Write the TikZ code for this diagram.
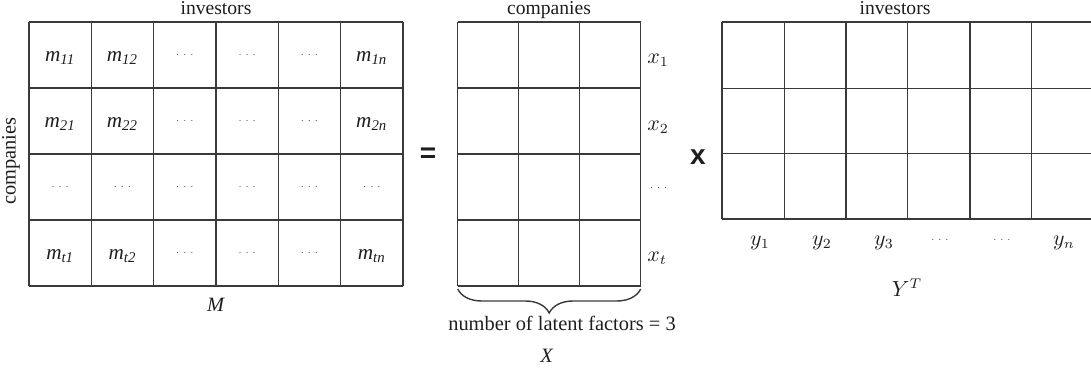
\documentclass[tikz,border=0pt]{standalone}
\usepackage{fontspec}
\setmainfont{Liberation Serif}
\newfontfamily\symsans{Liberation Sans}
\usetikzlibrary{decorations.pathreplacing}
\definecolor{gridc}{HTML}{3A3A3A}
\definecolor{txtc}{HTML}{1E1E1E}
\definecolor{dotc}{HTML}{555555}
\begin{document}
\begin{tikzpicture}[x=0.5pt,y=-0.5pt,
  gridline/.style={draw=gridc, line width=0.7pt},
  lbl/.style={font=\fontsize{10.2}{12}\selectfont, text=txtc, inner sep=0pt},
  toplbl/.style={font=\fontsize{9.8}{12}\selectfont, text=txtc, inner sep=0pt},
  cell/.style={font=\fontsize{10.6}{12}\selectfont, text=txtc, inner sep=0pt},
  dotsl/.style={font=\fontsize{5.5}{6}\selectfont, text=dotc, inner sep=0pt},
  mathl/.style={font=\fontsize{10.6}{12}\selectfont, text=txtc, inner sep=0pt},
  opsym/.style={font=\symsans\bfseries\fontsize{14}{16}\selectfont, text=txtc, inner sep=0pt}]
\useasboundingbox (0,0) rectangle (1091,383);
\clip (0,0) rectangle (1091,383);
% ---------- M grid ----------
\foreach \xx in {29,91.3,153.6,216,278.3,340.6,403}
  \draw[gridline] (\xx,22) -- (\xx,286);
\foreach \yy in {22,88,154,220,286}
  \draw[gridline] (29,\yy) -- (403,\yy);
% M cell labels
\newcommand{\mm}[1]{\textit{m}\textsubscript{\textit{#1}}}
\node[cell] (m11) at (60.2,58) {\mm{11}};
\node[cell] (m12) at (122.5,58) {\mm{12}};
\node[dotsl] (m13) at (184.8,55) {$\cdots$};
\node[dotsl] (m14) at (247.2,55) {$\cdots$};
\node[dotsl] (m15) at (309.5,55) {$\cdots$};
\node[cell] (m1n) at (371.8,58) {\mm{1n}};
\node[cell] (m21) at (60.2,124) {\mm{21}};
\node[cell] (m22) at (122.5,124) {\mm{22}};
\node[dotsl] (m23) at (184.8,121) {$\cdots$};
\node[dotsl] (m24) at (247.2,121) {$\cdots$};
\node[dotsl] (m25) at (309.5,121) {$\cdots$};
\node[cell] (m2n) at (371.8,124) {\mm{2n}};
\node[dotsl] (m31) at (60.2,187) {$\cdots$};
\node[dotsl] (m32) at (122.5,187) {$\cdots$};
\node[dotsl] (m33) at (184.8,187) {$\cdots$};
\node[dotsl] (m34) at (247.2,187) {$\cdots$};
\node[dotsl] (m35) at (309.5,187) {$\cdots$};
\node[dotsl] (m36) at (371.8,187) {$\cdots$};
\node[cell] (mt1) at (60.2,256) {\mm{t1}};
\node[cell] (mt2) at (122.5,256) {\mm{t2}};
\node[dotsl] (mt3) at (184.8,253) {$\cdots$};
\node[dotsl] (mt4) at (247.2,253) {$\cdots$};
\node[dotsl] (mt5) at (309.5,253) {$\cdots$};
\node[cell] (mtn) at (371.8,256) {\mm{tn}};
\node[toplbl, anchor=base] (invM) at (216,15) {investors};
\node[lbl, rotate=90] (compM) at (11,161) {companies};
\node[lbl] (Mlab) at (216,305) {\textit{M}};
% ---------- operators ----------
\node[opsym] (eq) at (428,155) {=};
\node[opsym] (times) at (698,157) {x};
% ---------- X grid ----------
\foreach \xx in {457.7,518.7,579.7,640.7}
  \draw[gridline] (\xx,22) -- (\xx,286);
\foreach \yy in {22,88,154,220,286}
  \draw[gridline] (457.7,\yy) -- (640.7,\yy);
\node[toplbl, anchor=base] (compX) at (549,15) {companies};
\node[mathl, anchor=west] (x1) at (647,60) {$x_1$};
\node[mathl, anchor=west] (x2) at (647,127) {$x_2$};
\node[dotsl, anchor=west] (xd) at (649,188) {$\cdots$};
\node[mathl, anchor=west] (xt) at (647,258) {$x_t$};
\coordinate (brR) at (640.7,289);
\coordinate (brL) at (457.7,289);
\draw[gridc, line width=0.7pt, decorate, decoration={brace, amplitude=12pt}] (brR) -- (brL);
\node[lbl] (nlf) at (562,323) {number of latent factors = 3};
\node[lbl] (Xlab) at (547,356) {\textit{X}};
% ---------- Y grid ----------
\foreach \xx in {722,784.3,846,907.7,970,1031.7}
  \draw[gridline] (\xx,22) -- (\xx,219);
\foreach \yy in {22,88.3,153.7,219}
  \draw[gridline] (722,\yy) -- (1093,\yy);
\node[toplbl, anchor=base] (invY) at (895,15) {investors};
\node[mathl] (y1) at (760,243) {$y_1$};
\node[mathl] (y2) at (822,243) {$y_2$};
\node[mathl] (y3) at (884,243) {$y_3$};
\node[dotsl] (yd1) at (940,240) {$\cdots$};
\node[dotsl] (yd2) at (1002,240) {$\cdots$};
\node[mathl] (yn) at (1064,243) {$y_n$};
\node[mathl] (YT) at (907,288) {$Y^{T}$};
\end{tikzpicture}
\end{document}
